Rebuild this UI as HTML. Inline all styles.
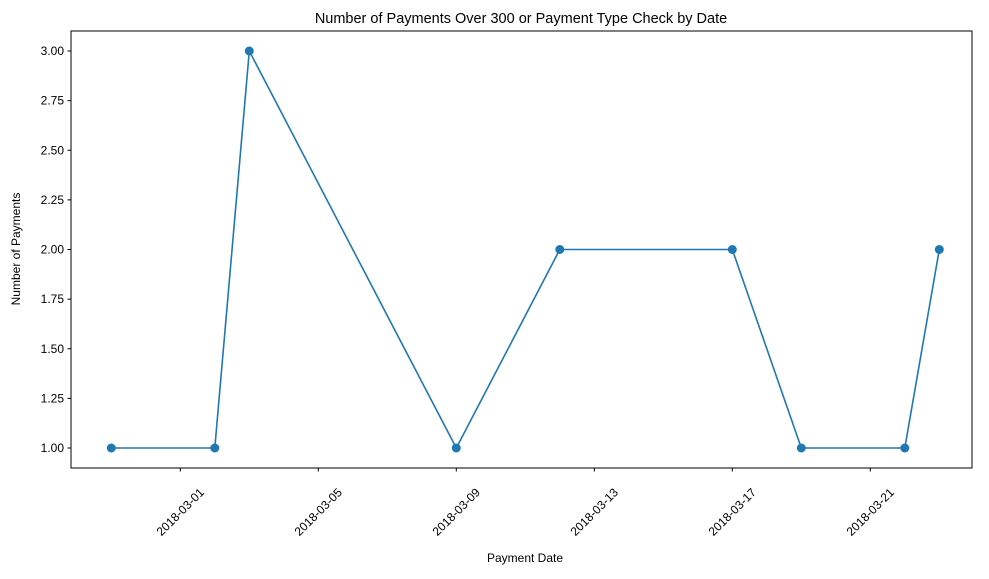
<!DOCTYPE html>
<html><head><meta charset="utf-8"><style>
body{margin:0;background:#fff;}
svg{font-family:"Liberation Sans","DejaVu Sans",sans-serif;}
</style></head><body>
<svg id="chart" width="989" height="574">
<text x="521" y="23" text-anchor="middle" font-size="14.5">Number of Payments Over 300 or Payment Type Check by Date</text>
<text x="525" y="562" text-anchor="middle" font-size="12">Payment Date</text>
<text transform="translate(20,249) rotate(-90)" text-anchor="middle" font-size="12">Number of Payments</text>
<g id="axes"></g>
<rect x="71" y="31" width="901" height="437" fill="none" stroke="#000" stroke-width="1"/>
</svg>
<script>
const dates=["2018-02-27","2018-03-02","2018-03-03","2018-03-09","2018-03-12","2018-03-17","2018-03-19","2018-03-22","2018-03-23"];
const counts=[1,1,3,1,2,2,1,1,2];
const xTickLabels=["2018-03-01","2018-03-05","2018-03-09","2018-03-13","2018-03-17","2018-03-21"];
const yTickValues=[1.00,1.25,1.50,1.75,2.00,2.25,2.50,2.75,3.00];
const NS="http://www.w3.org/2000/svg";
const base=Date.parse("2018-03-01");
function xs(d){return 180.3+(Date.parse(d)-base)/86400000*34.5;}
function ys(v){return 448-(v-1)*198.5;}
const g=document.getElementById('axes');
function mk(t,a){const e=document.createElementNS(NS,t);for(const k in a)e.setAttribute(k,a[k]);g.appendChild(e);return e;}
yTickValues.forEach(v=>{
  const y=ys(v);
  const t=mk('line',{x1:67.5,x2:71,y1:y,y2:y,stroke:'#000'});
  
  
  const l=mk('text',{x:64,y:y+4,'text-anchor':'end','font-size':'12'});
  l.textContent=v.toFixed(2);
  
  
});
xTickLabels.forEach(d=>{
  const x=xs(d);
  const t=mk('line',{x1:x,x2:x,y1:468,y2:471.5,stroke:'#000'});
  
  
  const l=mk('text',{transform:`translate(${x},512) rotate(-45)`,'text-anchor':'middle','font-size':'12',dy:'4'});
  l.textContent=d;
  
  
});
const pts=dates.map((d,i)=>xs(d)+','+ys(counts[i])).join(' ');
const line=mk('polyline',{points:pts,fill:'none',stroke:'#1f77b4','stroke-width':1.6});


dates.forEach((d,i)=>{
  const c=mk('circle',{cx:xs(d),cy:ys(counts[i]),r:4.5,fill:'#1f77b4'});
  
  
});
</script>
</body></html>
